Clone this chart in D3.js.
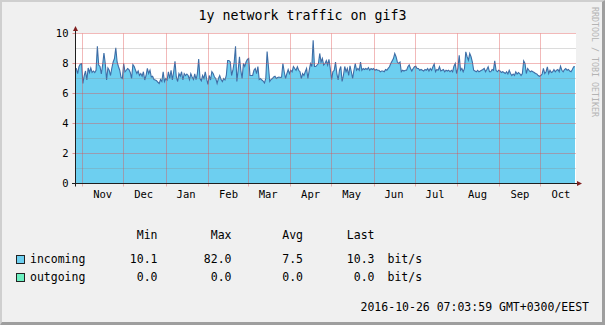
<!DOCTYPE html>
<html>
<head>
<meta charset="utf-8">
<style>
body { margin: 0; background: #f0f0f0; }
svg { display: block; }
text { font-family: "DejaVu Sans Mono", monospace; }
</style>
</head>
<body>
<svg width="605" height="325"></svg>
<script src="https://cdn.jsdelivr.net/npm/d3@7/dist/d3.min.js"></script>
<script>
// chart content
var title = "1y network traffic on gif3";
var stamp = "2016-10-26 07:03:59 GMT+0300/EEST";
var watermark = "RRDTOOL / TOBI OETIKER";
var startTime = new Date(2015, 9, 26, 19, 0),
    endTime = new Date(2016, 9, 26, 7, 4);
var yMax = 10;
var yLabels = [0, 2, 4, 6, 8, 10];

// incoming, bit/s, one reading roughly per day, oldest first
var incoming = [
  7.67, 7.67, 7.33, 7.78, 7.96, 8.0, 6.67, 7.2, 7.5, 6.9, 7.7, 7.4, 7.7, 7.4, 7.5, 7.4,
  7.55, 9.15, 7.9, 7.8, 7.3, 7.9, 8.7, 8.0, 6.9, 7.7, 7.55, 7.2, 7.7, 8.1, 8.33, 9.05,
  8.1, 7.8, 7.55, 7.07, 7.0, 8.0, 7.45, 7.55, 7.67, 7.6, 7.4, 7.0, 7.93, 7.8, 7.55, 7.33,
  7.5, 7.2, 7.33, 7.15, 7.45, 6.9, 7.2, 7.67, 7.33, 7.55, 7.1, 7.15, 6.93, 6.9, 6.85, 6.75,
  6.67, 6.93, 6.8, 7.45, 6.8, 7.0, 6.9, 7.45, 7.0, 7.55, 6.9, 7.45, 8.15, 7.1, 6.8, 7.33,
  7.15, 7.45, 6.9, 7.33, 7.2, 7.3, 7.2, 6.93, 7.33, 7.1, 6.93, 7.3, 6.93, 7.33, 8.3, 7.0,
  6.85, 7.2, 7.0, 7.45, 7.0, 6.6, 7.2, 6.9, 7.45, 7.33, 7.1, 7.0, 6.67, 7.0, 7.2, 6.93,
  6.8, 7.0, 6.9, 7.2, 8.2, 8.2, 8.1, 7.2, 7.55, 8.1, 9.15, 6.8, 7.55, 8.45,
  7.55, 7.0, 8.0, 7.8, 8.1, 8.27, 8.33, 7.2, 7.2, 7.2, 7.55, 7.67, 7.33, 7.8, 6.93, 7.0,
  6.9, 6.83, 6.7, 7.0, 8.8, 7.8, 6.8, 6.93, 7.0, 7.1, 7.15, 7.0, 7.07, 7.1, 7.07, 7.1,
  8.0, 7.45, 7.0, 7.33, 7.6, 7.33, 7.55, 7.45, 7.8, 7.67, 7.55, 7.78, 7.55, 7.45, 7.0, 7.33,
  7.2, 7.45, 7.67, 7.0, 7.55, 8.0, 7.8, 9.55, 7.8, 7.8, 7.9, 8.0, 8.67, 8.1, 8.33, 7.9,
  8.0, 8.2, 7.9, 8.27, 7.67, 6.93, 7.45, 7.55, 8.1, 7.33, 6.9, 7.55, 7.8, 6.8, 7.2, 7.8,
  7.45, 7.67, 7.2, 7.85, 7.45, 7.0, 7.55, 8.0, 7.55, 7.67, 7.55, 8.1, 7.55, 7.67, 7.6, 7.67,
  7.6, 7.73, 7.55, 7.67, 7.6, 7.67, 7.55, 7.6, 7.55, 7.55, 7.45, 7.5, 7.5, 7.45, 7.6, 7.55,
  7.67, 7.78, 8.0, 8.17, 8.33, 8.67, 8.45, 8.1, 8.0, 8.1, 7.45, 7.55, 7.5, 7.55, 7.55, 7.78,
  7.9, 7.67, 7.5, 7.67, 7.78, 7.82, 7.67, 7.67,
  7.55, 7.6, 7.55, 7.5, 7.6, 7.55, 7.67, 7.5, 7.67, 7.55, 7.78, 7.96, 7.45, 7.6, 7.55, 7.78,
  7.5, 7.55, 7.6, 7.45, 7.55, 7.5, 7.55, 7.45, 7.55, 7.45, 7.82, 8.0, 7.33, 7.67, 8.55, 7.55,
  7.67, 7.45, 7.67, 8.78, 8.45, 8.22, 8.67, 8.45, 8.1, 7.55, 7.5, 7.45, 7.55, 7.45, 7.5, 7.55,
  7.6, 7.67, 7.45, 7.6, 7.78, 7.45, 7.45, 7.6, 7.55, 8.17, 7.55, 7.45, 7.55, 7.5, 7.4, 7.45,
  7.4, 7.33, 7.45, 7.3, 7.55, 7.33, 7.2, 7.3, 7.2, 7.45, 7.3, 7.4, 7.33, 7.2, 7.33, 8.17,
  8.0, 7.33, 7.67, 7.55, 7.45, 7.5, 7.45, 7.4, 7.33, 7.3, 7.2, 7.15, 7.2, 7.3, 7.67, 7.33,
  7.45, 7.78, 7.33, 7.55, 7.4, 7.45, 7.6, 7.45, 7.55, 7.6, 7.45, 7.82, 7.55, 7.45, 7.6, 7.67,
  7.55, 7.6, 7.5, 7.45, 7.6, 7.78, 7.78
];

// legend
var legendNames = ["incoming", "outgoing"];
var statHeaders = ["Min", "Max", "Avg", "Last"];
var minVals = [10.1, 0.0],
    maxVals = [82.0, 0.0],
    avgVals = [7.5, 0.0],
    lastVals = [10.3, 0.0];
var unit = "bit/s";

var svg = d3.select("svg"),
    width = +svg.attr("width"),
    height = +svg.attr("height");

var fmt = d3.format(".1f");
var step = (endTime - startTime) / (incoming.length - 1);
var series = incoming.map(function(v, i) {
  return {t: new Date(+startTime + i * step), v: v};
});

var x = d3.scaleTime().domain([startTime, endTime]).range([75, 575]),
    y = d3.scaleLinear().domain([0, yMax]).range([183.5, 33.5]);

function px(v) { return Math.round(v) + 0.5; }

// frame
svg.append("rect").attr("width", width).attr("height", height).attr("fill", "#f0f0f0");
svg.append("path").attr("fill", "#cfcfcf")
    .attr("d", "M0,0H" + width + "L" + (width - 2) + ",2H2V" + (height - 2) + "L0," + height + "Z");
svg.append("path").attr("fill", "#9e9e9e")
    .attr("d", "M" + width + "," + height + "H0L2," + (height - 3) + "H" + (width - 3) + "V2L" + width + ",0Z");

// canvas
svg.append("rect")
    .attr("x", 75.5).attr("y", y(yMax) - 0.5)
    .attr("width", 500.5).attr("height", y(0) - y(yMax) + 0.5)
    .attr("fill", "#fff");

// incoming area + line
svg.append("path")
    .datum(series)
    .attr("fill", "#6dcff0")
    .attr("d", d3.area()
        .x(function(d) { return x(d.t); })
        .y0(y(0))
        .y1(function(d) { return y(d.v); }));

svg.append("path")
    .datum(series)
    .attr("fill", "none")
    .attr("stroke", "#3e6da6")
    .attr("stroke-width", 1.1)
    .attr("d", d3.line()
        .x(function(d) { return x(d.t); })
        .y(function(d) { return y(d.v); }));

// horizontal grid
var grid = svg.append("g");
grid.selectAll(".hgrid")
    .data(d3.range(1, yMax + 1))
  .enter().append("line")
    .attr("x1", 75.5).attr("x2", 576)
    .attr("y1", function(d) { return y(d); })
    .attr("y2", function(d) { return y(d); })
    .attr("stroke", function(d) { return d % 2 ? "rgba(140,140,140,0.3)" : "rgba(222,80,80,0.4)"; });

// month grid
var months = d3.timeMonth.range(startTime, endTime);
grid.selectAll(".vgrid")
    .data(months)
  .enter().append("line")
    .attr("x1", function(d) { return px(x(d)); })
    .attr("x2", function(d) { return px(x(d)); })
    .attr("y1", y(yMax)).attr("y2", y(0) + 3)
    .attr("stroke", "rgba(222,80,80,0.4)");

// y ticks on the axis
grid.selectAll(".ytick")
    .data(yLabels.filter(function(d) { return d > 0; }))
  .enter().append("line")
    .attr("x1", 72.5).attr("x2", 75.5)
    .attr("y1", function(d) { return y(d); })
    .attr("y2", function(d) { return y(d); })
    .attr("stroke", "rgba(222,80,80,0.6)");

// axes
svg.append("line")
    .attr("x1", 72).attr("x2", 578)
    .attr("y1", y(0)).attr("y2", y(0))
    .attr("stroke", "#1f1f1f");
svg.append("line")
    .attr("x1", 75.5).attr("x2", 75.5)
    .attr("y1", y(0) + 3).attr("y2", 29)
    .attr("stroke", "#1f1f1f");
svg.append("path").attr("fill", "#801f1f")
    .attr("d", "M73,31L78,31L75.5,26Z");
svg.append("path").attr("fill", "#801f1f")
    .attr("d", "M577," + (y(0) - 2.5) + "L577," + (y(0) + 2.5) + "L582," + y(0) + "Z");

// axis labels
svg.selectAll(".ylabel")
    .data(yLabels)
  .enter().append("text")
    .attr("x", 68.5)
    .attr("y", function(d) { return y(d) + 3; })
    .attr("text-anchor", "end")
    .style("font-size", "10.5px")
    .text(function(d) { return d; });

svg.selectAll(".xlabel")
    .data(months)
  .enter().append("text")
    .attr("x", function(d) { return x(d3.timeDay.offset(d, 15)); })
    .attr("y", 197.5)
    .attr("text-anchor", "middle")
    .style("font-size", "10.5px")
    .text(d3.timeFormat("%b"));

// title and watermark
svg.append("text")
    .attr("x", width / 2).attr("y", 20)
    .attr("text-anchor", "middle")
    .style("font-size", "13.3px")
    .text(title);

svg.append("text")
    .attr("transform", "translate(594.5,7) rotate(90)")
    .attr("dy", "0.35em")
    .attr("fill", "#b4b4b4")
    .style("font-size", "8.3px")
    .text(watermark);

// legend
var cols = [157.5, 231.5, 303, 374.5];
var stats = [minVals, maxVals, avgVals, lastVals];

svg.selectAll(".head")
    .data(statHeaders)
  .enter().append("text")
    .attr("x", function(d, i) { return cols[i]; })
    .attr("y", 238.5)
    .attr("text-anchor", "end")
    .style("font-size", "11.5px")
    .text(function(d) { return d; });

var row = svg.selectAll(".row")
    .data(legendNames)
  .enter().append("g")
    .attr("transform", function(d, i) { return "translate(0," + (263.3 + i * 18) + ")"; });

row.append("rect")
    .attr("x", 16.5).attr("y", -7.8)
    .attr("width", 8).attr("height", 8)
    .attr("fill", function(d, i) { return i ? "#6cf0c0" : "#6dcff0"; })
    .attr("stroke", "#222");

row.append("text")
    .attr("x", 30)
    .style("font-size", "11.5px")
    .text(function(d) { return d; });

stats.forEach(function(vals, c) {
  row.append("text")
      .attr("x", cols[c])
      .attr("text-anchor", "end")
      .style("font-size", "11.5px")
      .text(function(d, i) { return fmt(vals[i]); });
});

row.append("text")
    .attr("x", 387.5)
    .style("font-size", "11.5px")
    .text(unit);

svg.append("text")
    .attr("x", 589).attr("y", 311)
    .attr("text-anchor", "end")
    .style("font-size", "11.5px")
    .text(stamp);
</script>
</body>
</html>
